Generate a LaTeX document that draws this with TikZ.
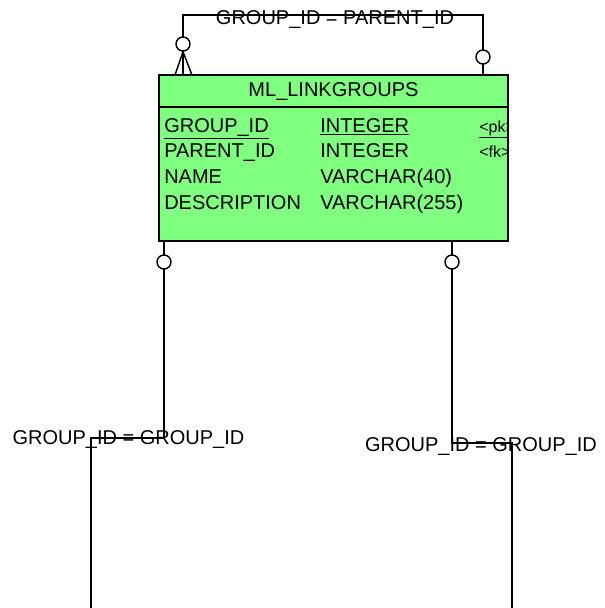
\documentclass[tikz,border=0pt]{standalone}
\usepackage{fontspec}
\setmainfont{Liberation Sans}
\definecolor{tablegreen}{RGB}{128,255,128}
\tikzset{
  erline/.style={line width=1.1pt},
  optcircle/.style={circle,draw,fill=white,line width=1.1pt,inner sep=0pt,minimum size=10.5pt},
  ertext/.style={inner sep=0pt,font=\fontsize{15}{18}\selectfont},
}
\begin{document}
\begin{tikzpicture}[x=0.75pt,y=0.75pt,yscale=-1,xscale=1]
\useasboundingbox (0,0) rectangle (605,608);

%Table ML_LINKGROUPS
\coordinate (tbl-nw) at (159,75);
\coordinate (tbl-se) at (508,241);
\draw [erline,fill=tablegreen] (tbl-nw) rectangle (tbl-se);
\draw [erline] (159,107) -- (508,107);
\node [ertext] (tbl-title) at (333.5,91) {ML\_LINKGROUPS};

% Columns
\begin{scope}
\clip (159,107) rectangle (508,241);
\node [ertext,anchor=base west] (col-gid) at (164,132) {\underline{GROUP\_ID}};
\node [ertext,anchor=base west] (col-gid-t) at (320,132) {\underline{INTEGER}};
\node [ertext,anchor=base west,font=\fontsize{12}{14}\selectfont] (col-gid-k) at (479,132) {\underline{<pk>}};
\node [ertext,anchor=base west] (col-pid) at (164,157.5) {PARENT\_ID};
\node [ertext,anchor=base west] (col-pid-t) at (320,157.5) {INTEGER};
\node [ertext,anchor=base west,font=\fontsize{12}{14}\selectfont] (col-pid-k) at (479,157.5) {<fk>};
\node [ertext,anchor=base west] (col-name) at (164,183.5) {NAME};
\node [ertext,anchor=base west] (col-name-t) at (320,183.5) {VARCHAR(40)};
\node [ertext,anchor=base west] (col-desc) at (164,209.5) {DESCRIPTION};
\node [ertext,anchor=base west] (col-desc-t) at (320,209.5) {VARCHAR(255)};
\end{scope}

%Reference GROUP_ID = PARENT_ID
\coordinate (self-a) at (183,75);
\coordinate (self-b) at (483,75);
\draw [erline] (self-a) -- (183,15) -- (483,15) -- (self-b);
\node [optcircle] (self-ca) at (183,44) {};
\node [optcircle] (self-cb) at (483,57) {};
\draw [erline] (self-ca.south) -- (175,75);
\draw [erline] (self-ca.south) -- (183,75);
\draw [erline] (self-ca.south) -- (192,75);
\node [ertext,anchor=base] (lbl-self) at (335,24) {GROUP\_ID = PARENT\_ID};

%Reference left
\coordinate (ref-l-top) at (164,241);
\coordinate (ref-l-end) at (91,608);
\draw [erline] (ref-l-top) -- (164,438) -- (91,438) -- (ref-l-end);
\node [optcircle] (ref-l-c) at (164,262) {};
\node [ertext,anchor=base] (lbl-l) at (128.5,444) {GROUP\_ID = GROUP\_ID};

%Reference right
\coordinate (ref-r-top) at (452,241);
\coordinate (ref-r-end) at (512,608);
\draw [erline] (ref-r-top) -- (452,443) -- (512,443) -- (ref-r-end);
\node [optcircle] (ref-r-c) at (452,262) {};
\node [ertext,anchor=base] (lbl-r) at (481,451.5) {GROUP\_ID = GROUP\_ID};

\end{tikzpicture}
\end{document}
